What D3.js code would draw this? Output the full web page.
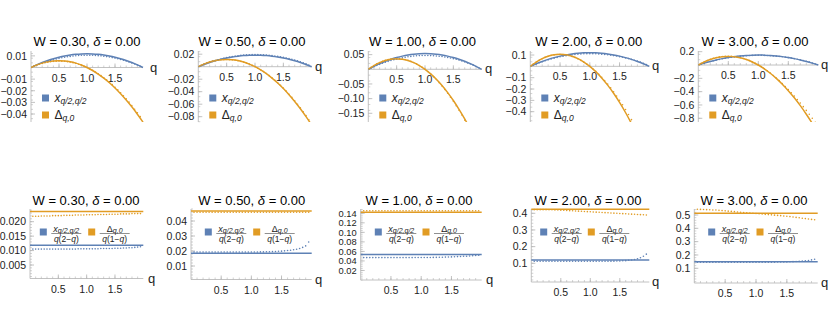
<!DOCTYPE html>
<html><head><meta charset="utf-8">
<script src="https://cdn.jsdelivr.net/npm/d3@7"></script>
<style>
html,body{margin:0;padding:0;background:#fff;}
svg{display:block;font-family:"Liberation Sans",Arial,sans-serif;}
</style></head>
<body><svg id="c" width="830" height="322"></svg>
<script>
// ---------------- DATA ----------------
const wLabels = ["0.30", "0.50", "1.00", "2.00", "3.00"];
const deltaLabel = "0.00";
const qGrid = [0.05,0.10,0.15,0.20,0.25,0.30,0.35,0.40,0.45,0.50,0.55,0.60,0.65,0.70,0.75,0.80,0.85,0.90,0.95,1.00,
               1.05,1.10,1.15,1.20,1.25,1.30,1.35,1.40,1.45,1.50,1.55,1.60,1.65,1.70,1.75,1.80,1.85,1.90,1.95];
const qLine = [0,0.1,0.2,0.3,0.4,0.5,0.6,0.7,0.8,0.9,1.0,1.1,1.2,1.3,1.4,1.5,1.6,1.7,1.8,1.9,2.0];
// fitted constants (solid lines): x/(q(2-q)) and Δ/(q(1-q))
const xFit = [0.0118, 0.0185, 0.0535, 0.120, 0.150];
const dFit = [0.0235, 0.0467, 0.142, 0.424, 0.513];
// numerical points (dotted): x/(q(2-q))
const xPts = [
 [0.0105,0.0105,0.0105,0.0105,0.0105,0.0105,0.0105,0.0105,0.0105,0.0105,0.0105,0.0105,0.0105,0.0105,0.0105,0.0105,0.0106,0.0106,0.0106,0.0106,
  0.0106,0.0106,0.0106,0.0106,0.0107,0.0107,0.0107,0.0107,0.0107,0.0108,0.0108,0.0108,0.0109,0.0109,0.0110,0.0110,0.0111,0.0112,0.0113],
 [0.0193,0.0193,0.0193,0.0193,0.0193,0.0193,0.0193,0.0193,0.0193,0.0193,0.0193,0.0193,0.0193,0.0193,0.0193,0.0193,0.0193,0.0193,0.0193,0.0193,
  0.0193,0.0193,0.0194,0.0194,0.0195,0.0195,0.0196,0.0197,0.0198,0.0199,0.0201,0.0203,0.0205,0.0208,0.0212,0.0217,0.0224,0.0234,0.0260],
 [0.0470,0.0470,0.0470,0.0470,0.0470,0.0470,0.0470,0.0470,0.0470,0.0470,0.0470,0.0470,0.0470,0.0470,0.0470,0.0470,0.0470,0.0471,0.0471,0.0471,
  0.0472,0.0472,0.0473,0.0474,0.0475,0.0477,0.0479,0.0481,0.0483,0.0485,0.0488,0.0491,0.0494,0.0497,0.0500,0.0504,0.0508,0.0513,0.0520],
 [0.112,0.112,0.112,0.112,0.112,0.112,0.112,0.112,0.112,0.112,0.112,0.112,0.112,0.112,0.112,0.112,0.112,0.112,0.112,0.112,
  0.112,0.112,0.112,0.112,0.112,0.112,0.113,0.113,0.114,0.114,0.115,0.116,0.118,0.120,0.123,0.127,0.133,0.142,0.155],
 [0.146,0.146,0.146,0.146,0.146,0.146,0.146,0.146,0.146,0.146,0.146,0.146,0.146,0.146,0.146,0.146,0.146,0.146,0.146,0.146,
  0.146,0.146,0.146,0.146,0.146,0.146,0.147,0.147,0.148,0.148,0.149,0.150,0.151,0.152,0.154,0.156,0.159,0.163,0.168]
];
// numerical points (dotted): Δ/(q(1-q))
const dPts = [
 [0.0219,0.0219,0.0219,0.0220,0.0220,0.0220,0.0220,0.0221,0.0221,0.0221,0.0221,0.0222,0.0222,0.0222,0.0222,0.0223,0.0223,0.0223,0.0223,0.0224,
  0.0224,0.0224,0.0224,0.0225,0.0225,0.0225,0.0225,0.0226,0.0226,0.0226,0.0226,0.0227,0.0227,0.0227,0.0227,0.0228,0.0228,0.0228,0.0228],
 [0.0458,0.0458,0.0458,0.0458,0.0458,0.0458,0.0458,0.0458,0.0458,0.0458,0.0458,0.0458,0.0458,0.0458,0.0458,0.0458,0.0458,0.0458,0.0458,0.0458,
  0.0458,0.0458,0.0458,0.0458,0.0458,0.0458,0.0458,0.0458,0.0458,0.0458,0.0458,0.0458,0.0458,0.0458,0.0458,0.0458,0.0458,0.0458,0.0458],
 [0.1455,0.1455,0.1455,0.1455,0.1455,0.1455,0.1455,0.1455,0.1455,0.1455,0.1455,0.1455,0.1455,0.1455,0.1455,0.1455,0.1455,0.1455,0.1455,0.1455,
  0.1455,0.1455,0.1455,0.1455,0.1455,0.1455,0.1455,0.1455,0.1455,0.1455,0.1455,0.1455,0.1455,0.1455,0.1455,0.1455,0.1455,0.1455,0.1455],
 [0.422,0.422,0.422,0.422,0.422,0.421,0.421,0.420,0.420,0.419,0.418,0.417,0.416,0.415,0.414,0.413,0.412,0.411,0.410,0.409,
  0.408,0.407,0.406,0.405,0.404,0.403,0.402,0.401,0.400,0.399,0.398,0.397,0.396,0.395,0.394,0.393,0.392,0.391,0.390],
 [0.543,0.542,0.541,0.540,0.539,0.538,0.537,0.535,0.533,0.531,0.529,0.527,0.525,0.523,0.521,0.519,0.517,0.515,0.513,0.511,
  0.509,0.507,0.505,0.503,0.501,0.499,0.497,0.495,0.493,0.491,0.488,0.485,0.482,0.479,0.476,0.473,0.470,0.467,0.464]
];
const qTicks = [0.5, 1.0, 1.5];
const topYTicks = [[0.01,-0.01,-0.02,-0.03,-0.04],[0.02,-0.02,-0.04,-0.06,-0.08],[0.05,-0.05,-0.10,-0.15],[0.1,-0.1,-0.2,-0.3,-0.4],[0.2,-0.2,-0.4,-0.6,-0.8]];
const topYFmt = [".2f",".2f",".2f",".1f",".1f"];
const botYTicks = [[0.005,0.010,0.015,0.020],[0.01,0.02,0.03,0.04],[0.02,0.04,0.06,0.08,0.10,0.12,0.14],[0.1,0.2,0.3,0.4],[0.1,0.2,0.3,0.4,0.5]];
const botYFmt = [".3f",".2f",".2f",".1f",".1f"];

// ---------------- LAYOUT ----------------
const topLay = [
 {ax:31,   qe:143,   ya:[0,67.5],  yb:[-0.04,114],  tx:87,    qx:150},
 {ax:198.3,qe:311.7, ya:[0,66.7],  yb:[-0.08,116.7],tx:252,   qx:315},
 {ax:368.3,qe:481.7, ya:[0,69.3],  yb:[-0.15,113.3],tx:422.5, qx:485},
 {ax:530.3,qe:649.3, ya:[0.1,55],  yb:[-0.4,111.7], tx:588.7, qx:652},
 {ax:698.3,qe:818.3, ya:[0.2,51.7],yb:[-0.8,118.3], tx:755,   qx:821}
];
const botLay = [
 {ax:30,   qe:143.3, ya:[0.020,221.7], yb:[0.005,265],  xy:278.5, tx:86,  l1:43.3,  l2:91.7,  qx:148, fs:10.5},
 {ax:191,  qe:311.7, ya:[0.04,221],    yb:[0.01,266],   xy:279.5, tx:251.7,l1:208.3, l2:256.7, qx:315, fs:10.5},
 {ax:360.7,qe:481.7, ya:[0.14,213.3],  yb:[0,280],      xy:280,   tx:419, l1:378.3, l2:426,   qx:486, fs:9.3},
 {ax:531.3,qe:649.3, ya:[0.4,213.3],   yb:[0.1,263.3],  xy:282,   tx:588, l1:543.7, l2:591.3, qx:652, fs:10.5},
 {ax:694.3,qe:817.7, ya:[0.5,215],     yb:[0.1,268.3],  xy:283,   tx:754, l1:711.7, l2:760,   qx:821, fs:10.5}
];
const BLUE = "#5E81B5", ORANGE = "#E19C24", AXIS = "#b3b3b3", TXT = "#222";

const svg = d3.select("#c");
const minus = s => s.replace("-", "\u2212");

function lin(l){ return d3.scaleLinear().domain([l.ya[0], l.yb[0]]).range([l.ya[1], l.yb[1]]); }

function title(g, cx, cy, w){
  const t = g.append("text").attr("x", cx).attr("y", cy).attr("text-anchor","middle")
    .attr("font-size", 13).attr("fill", "#000");
  t.append("tspan").text("W = " + w + ", ");
  t.append("tspan").attr("font-style","italic").text("\u03b4");
  t.append("tspan").text(" = " + deltaLabel);
}

function yAxis(g, x, y, y0, y1, ticks, fmt, fs){
  g.append("line").attr("x1",x).attr("x2",x).attr("y1",y0).attr("y2",y1).attr("stroke",AXIS).attr("stroke-width",0.8);
  const step = ticks.length > 1 ? Math.abs(ticks[1]-ticks[0]) : 0.01;
  const lo = Math.min(y.invert(y0), y.invert(y1)), hi = Math.max(y.invert(y0), y.invert(y1));
  const minor = d3.range(Math.ceil(lo/(step/5)), Math.floor(hi/(step/5))+1).map(k=>k*step/5);
  g.selectAll(null).data(minor).join("line").attr("x1",x).attr("x2",x+2)
    .attr("y1",d=>y(d)).attr("y2",d=>y(d)).attr("stroke",AXIS).attr("stroke-width",0.6);
  g.selectAll(null).data(ticks).join("line").attr("x1",x).attr("x2",x+4)
    .attr("y1",d=>y(d)).attr("y2",d=>y(d)).attr("stroke",AXIS).attr("stroke-width",0.8);
  g.selectAll(null).data(ticks).join("text").attr("x",x-4).attr("y",d=>y(d)+fs*0.36)
    .attr("text-anchor","end").attr("font-size",fs).attr("fill",TXT).text(d=>minus(d3.format(fmt)(d)));
}

function xAxis(g, x, yPix, q0, q1, labelDy, qx){
  g.append("line").attr("x1",q0).attr("x2",q1).attr("y1",yPix).attr("y2",yPix).attr("stroke",AXIS).attr("stroke-width",0.8);
  const minor = d3.range(1,20).map(k=>k*0.1);
  g.selectAll(null).data(minor).join("line").attr("x1",d=>x(d)).attr("x2",d=>x(d))
    .attr("y1",yPix).attr("y2",yPix-2).attr("stroke",AXIS).attr("stroke-width",0.6);
  g.selectAll(null).data(qTicks).join("line").attr("x1",d=>x(d)).attr("x2",d=>x(d))
    .attr("y1",yPix).attr("y2",yPix-4).attr("stroke",AXIS).attr("stroke-width",0.8);
  g.selectAll(null).data(qTicks).join("text").attr("x",d=>x(d)).attr("y",yPix+labelDy)
    .attr("text-anchor","middle").attr("font-size",10.5).attr("fill",TXT).text(d=>d3.format(".1f")(d));
  g.append("text").attr("x", qx).attr("y", yPix+4).attr("font-size",13).attr("fill",TXT).text("q");
}

// ---------- top row ----------
topLay.forEach((l, i) => {
  const g = svg.append("g");
  const x = d3.scaleLinear().domain([0,2]).range([l.ax, l.qe]);
  const y = lin(l);
  title(g, l.tx, 46, wLabels[i]);
  const clipId = "ct"+i;
  g.append("clipPath").attr("id",clipId).append("rect").attr("x",l.ax).attr("y",50).attr("width",l.qe-l.ax+2).attr("height",72);
  yAxis(g, l.ax, y, 51, 122, topYTicks[i], topYFmt[i], 10.5);
  xAxis(g, x, y(0), l.ax, l.qe, 14, l.qx);
  const pg = g.append("g").attr("clip-path", `url(#${clipId})`);
  pg.append("path").datum(qLine.map(q=>[q, xFit[i]*q*(2-q)])).attr("d", d3.line().x(d=>x(d[0])).y(d=>y(d[1])).curve(d3.curveCatmullRom))
    .attr("fill","none").attr("stroke",BLUE).attr("stroke-width",1.5);
  pg.append("path").datum(qLine.map(q=>[q, dFit[i]*q*(1-q)])).attr("d", d3.line().x(d=>x(d[0])).y(d=>y(d[1])).curve(d3.curveCatmullRom))
    .attr("fill","none").attr("stroke",ORANGE).attr("stroke-width",1.5);
  pg.selectAll(null).data(qGrid.map((q,k)=>[q, xPts[i][k]*q*(2-q)])).join("circle")
    .attr("cx",d=>x(d[0])).attr("cy",d=>y(d[1])).attr("r",0.8).attr("fill",BLUE);
  pg.selectAll(null).data(qGrid.map((q,k)=>[q, dPts[i][k]*q*(1-q)])).join("circle")
    .attr("cx",d=>x(d[0])).attr("cy",d=>y(d[1])).attr("r",0.8).attr("fill",ORANGE);
  // legend
  const lx = l.ax + 14.5;
  const ly1 = 98, ly2 = 115;
  g.append("rect").attr("x",lx-3.5).attr("y",ly1-3.5).attr("width",7).attr("height",7).attr("fill",BLUE);
  g.append("rect").attr("x",lx-3.5).attr("y",ly2-3.5).attr("width",7).attr("height",7).attr("fill",ORANGE);
  const t1 = g.append("text").attr("x",lx+9).attr("y",ly1+3.5).attr("font-size",12).attr("fill",TXT);
  t1.append("tspan").attr("font-style","italic").text("x");
  t1.append("tspan").attr("font-style","italic").attr("font-size",8.5).attr("dy",2.5).text("q/2,q/2");
  const t2 = g.append("text").attr("x",lx+9).attr("y",ly2+3.5).attr("font-size",12).attr("fill",TXT);
  t2.append("tspan").text("\u0394");
  t2.append("tspan").attr("font-style","italic").attr("font-size",8.5).attr("dy",2.5).text("q,0");
});

// ---------- bottom row ----------
function frac(g, x, yc, numMain, numSub, numMainItalic, den){
  const w = 30;
  g.append("line").attr("x1",x).attr("x2",x+w).attr("y1",yc).attr("y2",yc).attr("stroke","#444").attr("stroke-width",0.6);
  const n = g.append("text").attr("x",x+w/2).attr("y",yc-2).attr("text-anchor","middle").attr("font-size",9).attr("fill",TXT);
  n.append("tspan").attr("font-style", numMainItalic ? "italic" : "normal").text(numMain);
  n.append("tspan").attr("font-style","italic").attr("font-size",7).attr("dy",1.5).text(numSub);
  const d = g.append("text").attr("x",x+w/2).attr("y",yc+8.5).attr("text-anchor","middle").attr("font-size",8.5).attr("fill",TXT);
  d.append("tspan").attr("font-style","italic").text("q");
  d.append("tspan").text("(" + den + "\u2212");
  d.append("tspan").attr("font-style","italic").text("q");
  d.append("tspan").text(")");
}

botLay.forEach((l, i) => {
  const g = svg.append("g");
  const x = d3.scaleLinear().domain([0,2]).range([l.ax, l.qe]);
  const y = lin(l);
  title(g, l.tx, 205, wLabels[i]);
  yAxis(g, l.ax, y, 209, l.xy, botYTicks[i], botYFmt[i], l.fs);
  xAxis(g, x, l.xy, l.ax, l.qe, 14, l.qx);
  g.append("line").attr("x1",l.ax).attr("x2",l.qe).attr("y1",y(xFit[i])).attr("y2",y(xFit[i])).attr("stroke",BLUE).attr("stroke-width",1.5);
  g.append("line").attr("x1",l.ax).attr("x2",l.qe).attr("y1",y(dFit[i])).attr("y2",y(dFit[i])).attr("stroke",ORANGE).attr("stroke-width",1.5);
  g.selectAll(null).data(qGrid.map((q,k)=>[q, xPts[i][k]])).join("circle")
    .attr("cx",d=>x(d[0])).attr("cy",d=>y(d[1])).attr("r",0.8).attr("fill",BLUE);
  g.selectAll(null).data(qGrid.map((q,k)=>[q, dPts[i][k]])).join("circle")
    .attr("cx",d=>x(d[0])).attr("cy",d=>y(d[1])).attr("r",0.8).attr("fill",ORANGE);
  const ly = 232;
  g.append("rect").attr("x",l.l1-3.5).attr("y",ly-3.5).attr("width",7).attr("height",7).attr("fill",BLUE);
  g.append("rect").attr("x",l.l2-3.5).attr("y",ly-3.5).attr("width",7).attr("height",7).attr("fill",ORANGE);
  frac(g, l.l1+8, ly+1.5, "x", "q/2,q/2", true, "2");
  frac(g, l.l2+8, ly+1.5, "\u0394", "q,0", false, "1");
});
</script></body></html>
